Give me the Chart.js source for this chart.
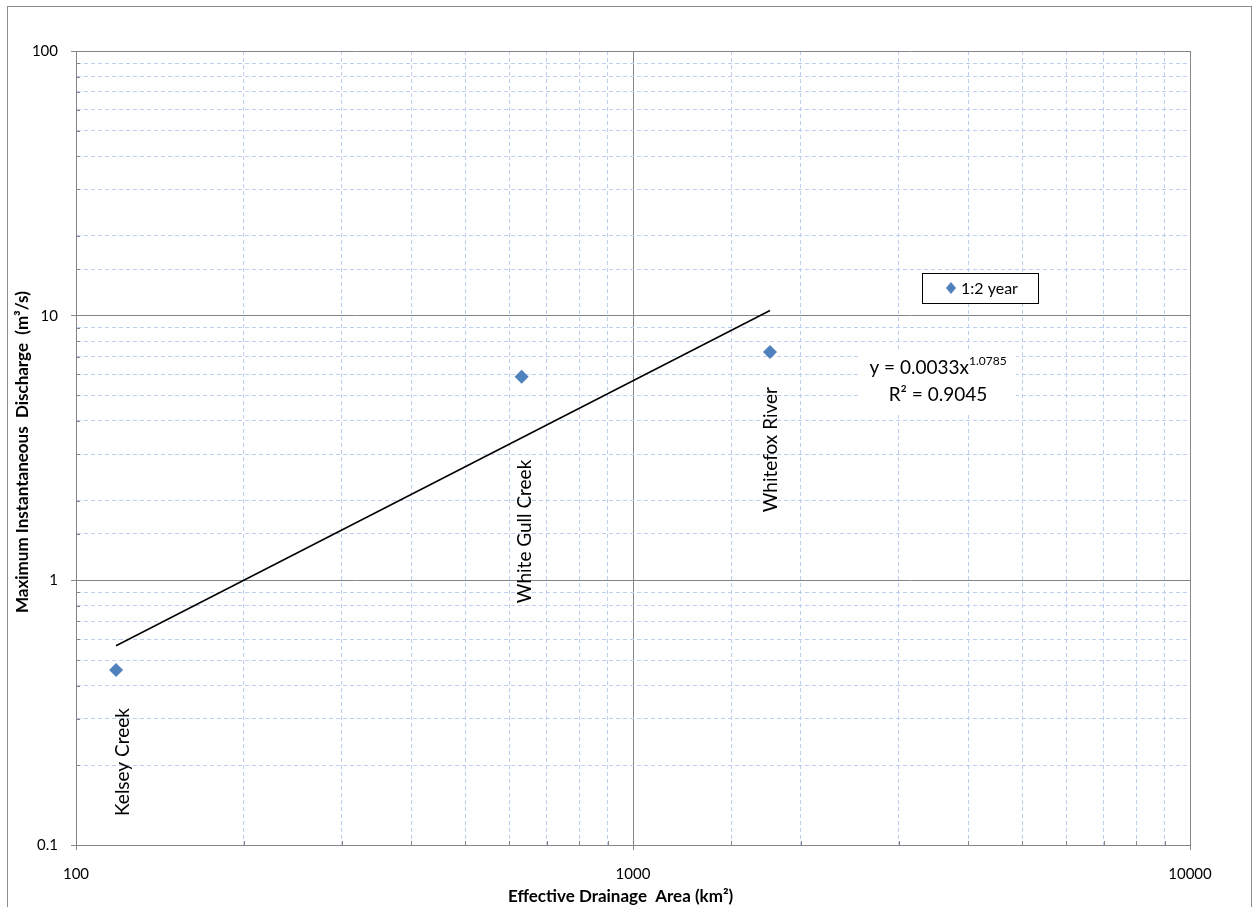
<!DOCTYPE html>
<html>
<head>
<meta charset="utf-8">
<script src="https://cdn.jsdelivr.net/npm/chart.js@4/dist/chart.umd.min.js"></script>
<style>
  html, body { margin: 0; padding: 0; background: #fff; }
  #wrap { width: 1253px; height: 907px; }
</style>
</head>
<body>
<div id="wrap"><canvas id="chart" width="1253" height="907"></canvas></div>
<script>
'use strict';

// station data
var stationNames = ['Kelsey Creek', 'White Gull Creek', 'Whitefox River'];
var areaKm2      = [118, 631, 1762];
var discharge    = [0.458, 5.88, 7.29];

// power trendline end points, y = 0.0033x^1.0785
var trendArea      = [118, 1762];
var trendDischarge = [0.566, 10.46];

var xTickLabels = [100, 1000, 10000];
var yTickLabels = [0.1, 1, 10, 100];

var seriesName = '1:2 year';
var eqLine1 = 'y = 0.0033x';
var eqExp   = '1.0785';
var eqLine2 = 'R\u00b2 = 0.9045';

var FONT = 'Lato, "Open Sans", sans-serif';
var MARKER = '#4f81bd';

function isDecade(v) {
  var l = Math.log10(v);
  return Math.abs(l - Math.round(l)) < 1e-6;
}
function tickLabel(list) {
  return function (value) {
    for (var i = 0; i < list.length; i++) {
      if (Math.abs(value - list[i]) / list[i] < 1e-6) return String(list[i]);
    }
    return '';
  };
}
function gridColor(ctx) {
  if (!ctx.tick) return '#868686';
  return isDecade(ctx.tick.value) ? '#868686' : '#bccfee';
}
function gridDash(ctx) {
  if (!ctx.tick) return [];
  return isDecade(ctx.tick.value) ? [] : [4, 3];
}
function tickColor(ctx) {
  if (!ctx.tick) return '#868686';
  return isDecade(ctx.tick.value) ? '#868686' : 'rgba(0,0,0,0)';
}

var points = areaKm2.map(function (x, i) { return { x: x, y: discharge[i] }; });
var trend = trendArea.map(function (x, i) { return { x: x, y: trendDischarge[i] }; });

// outer frame, minor inside ticks, legend box, equation and station labels
var decorPlugin = {
  id: 'decor',
  beforeDraw: function (chart) {
    var c = chart.ctx;
    c.save();
    c.fillStyle = '#fff';
    c.fillRect(0, 0, chart.width, chart.height);
    c.strokeStyle = '#8c8c8c';
    c.lineWidth = 1;
    c.strokeRect(7.5, 6.5, 1244, 920);
    c.restore();
  },
  afterDraw: function (chart) {
    var c = chart.ctx;
    var a = chart.chartArea;
    c.save();
    c.strokeStyle = '#868686';
    c.lineWidth = 1;
    c.beginPath();
    chart.scales.x.ticks.forEach(function (t) {
      if (isDecade(t.value)) return;
      var px = Math.round(chart.scales.x.getPixelForValue(t.value)) + 0.5;
      c.moveTo(px, a.bottom); c.lineTo(px, a.bottom - 4);
    });
    chart.scales.y.ticks.forEach(function (t) {
      if (isDecade(t.value)) return;
      var py = Math.round(chart.scales.y.getPixelForValue(t.value)) + 0.5;
      c.moveTo(a.left, py); c.lineTo(a.left + 4, py);
    });
    c.stroke();
    c.restore();
  },
  afterDatasetsDraw: function (chart) {
    var c = chart.ctx;
    var meta = chart.getDatasetMeta(0);
    var labelOffsets = [[7, 38], [3, 83], [1, 35]];

    c.save();
    c.fillStyle = '#000';
    c.font = '19px ' + FONT;
    c.textAlign = 'right';
    c.textBaseline = 'middle';
    meta.data.forEach(function (pt, i) {
      c.save();
      c.translate(pt.x + labelOffsets[i][0], pt.y + labelOffsets[i][1]);
      c.rotate(-Math.PI / 2);
      c.fillText(stationNames[i], 0, 0);
      c.restore();
    });

    // trendline equation
    c.fillStyle = '#fff';
    c.fillRect(860, 352, 156, 60);
    c.fillStyle = '#000';
    c.textBaseline = 'alphabetic';
    c.textAlign = 'left';
    c.font = '19px ' + FONT;
    var w1 = c.measureText(eqLine1).width;
    c.font = '12px ' + FONT;
    var we = c.measureText(eqExp).width;
    var x0 = 938 - (w1 + we) / 2;
    c.font = '19px ' + FONT;
    c.fillText(eqLine1, x0, 374);
    c.font = '12px ' + FONT;
    c.fillText(eqExp, x0 + w1, 365);
    c.font = '19px ' + FONT;
    c.textAlign = 'center';
    c.fillText(eqLine2, 938, 401);

    // legend
    c.fillStyle = '#fff';
    c.fillRect(922.5, 273.5, 116, 30);
    c.strokeStyle = '#000';
    c.lineWidth = 1;
    c.strokeRect(922.5, 273.5, 116, 30);
    c.fillStyle = MARKER;
    c.beginPath();
    c.moveTo(951, 282); c.lineTo(956, 288); c.lineTo(951, 294); c.lineTo(946, 288);
    c.closePath();
    c.fill();
    c.fillStyle = '#000';
    c.textAlign = 'left';
    c.textBaseline = 'middle';
    c.font = '16px ' + FONT;
    c.fillText(chart.data.datasets[0].label, 961, 289);
    c.restore();
  }
};

var chart = new Chart(document.getElementById('chart'), {
  type: 'scatter',
  data: {
    datasets: [{
      label: seriesName,
      data: points,
      pointStyle: 'rectRot',
      pointRadius: 7,
      pointHoverRadius: 7,
      backgroundColor: MARKER,
      borderColor: MARKER,
      borderWidth: 0,
      order: 1
    }, {
      label: 'trend',
      type: 'line',
      data: trend,
      borderColor: '#000',
      borderWidth: 1.5,
      pointRadius: 0,
      fill: false,
      order: 2
    }]
  },
  options: {
    responsive: false,
    animation: false,
    events: [],
    layout: { padding: { left: 0, top: 51, right: 63, bottom: 0 } },
    plugins: {
      legend: { display: false },
      tooltip: { enabled: false }
    },
    scales: {
      x: {
        type: 'logarithmic',
        min: 100, max: 10000,
        afterFit: function (s) { s.height = 62; },
        grid: { color: gridColor, lineWidth: 1, tickLength: 5, tickColor: tickColor },
        border: { display: true, color: '#868686', width: 1, dash: gridDash },
        ticks: {
          autoSkip: false, maxRotation: 0, padding: 15,
          color: '#000', font: { family: FONT, size: 15 },
          callback: tickLabel(xTickLabels)
        },
        title: {
          display: true, text: 'Effective Drainage  Area (km\u00b2)      ',
          color: '#000', font: { family: FONT, size: 17, weight: 'bold' },
          padding: { top: 0, bottom: 0 }
        }
      },
      y: {
        type: 'logarithmic',
        min: 0.1, max: 100,
        afterFit: function (s) { s.width = 76; },
        grid: { color: gridColor, lineWidth: 1, tickLength: 5, tickColor: tickColor },
        border: { display: true, color: '#868686', width: 1, dash: gridDash },
        ticks: {
          autoSkip: false, padding: 13,
          color: '#000', font: { family: FONT, size: 15 },
          callback: tickLabel(yTickLabels)
        },
        title: {
          display: true, text: 'Maximum Instantaneous  Discharge  (m\u00b3/s)  ',
          color: '#000', font: { family: FONT, size: 17, weight: 'bold' },
          padding: { top: 12, bottom: 0 }
        }
      }
    }
  },
  plugins: [decorPlugin]
});
</script>
</body>
</html>
